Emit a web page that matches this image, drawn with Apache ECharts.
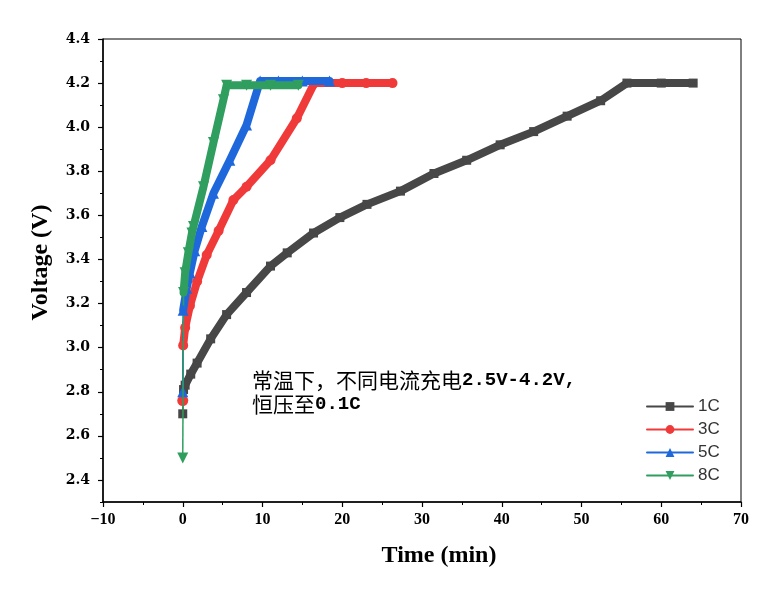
<!DOCTYPE html>
<html>
<head>
<meta charset="utf-8">
<script src="https://cdn.jsdelivr.net/npm/echarts@6/dist/echarts.min.js"></script>
<style>html,body{margin:0;padding:0;background:#fff;}#chart{width:777px;height:601px;}</style>
</head>
<body>
<div id="chart"></div>
<script>
// ---- data ----
const seriesNames = ['1C', '3C', '5C', '8C'];

const t1C = [0, 0.1, 0.3, 1.0, 1.8, 3.5, 5.5, 8.0, 11.0, 13.1, 16.4, 19.7, 23.1, 27.3, 31.5, 35.6, 39.8, 44.0, 48.2, 52.4, 55.7, 60, 64];
const v1C = [2.70, 2.81, 2.83, 2.88, 2.93, 3.04, 3.15, 3.25, 3.37, 3.43, 3.52, 3.59, 3.65, 3.71, 3.79, 3.85, 3.92, 3.98, 4.05, 4.12, 4.20, 4.20, 4.20];

const t3C = [0, 0.05, 0.3, 0.9, 1.8, 3.0, 4.5, 6.35, 8.0, 11.0, 14.3, 16.5, 20, 23, 26.3];
const v3C = [2.76, 3.01, 3.09, 3.19, 3.30, 3.42, 3.53, 3.67, 3.73, 3.85, 4.04, 4.20, 4.20, 4.20, 4.20];

const t5C = [0, 0.05, 0.5, 0.9, 1.5, 2.4, 3.85, 5.9, 8.0, 9.7, 12, 15, 18.4];
const v5C = [2.80, 3.17, 3.27, 3.34, 3.44, 3.55, 3.70, 3.85, 4.01, 4.21, 4.21, 4.21, 4.21];

const t8C = [0, 0.1, 0.3, 0.7, 1.15, 1.35, 2.6, 3.85, 5.1, 5.5, 8, 11, 14.5];
const v8C = [2.50, 3.25, 3.34, 3.43, 3.52, 3.55, 3.73, 3.93, 4.125, 4.19, 4.19, 4.19, 4.19];

const xTicks = [-10, 0, 10, 20, 30, 40, 50, 60, 70];
const yTicks = [2.4, 2.6, 2.8, 3.0, 3.2, 3.4, 3.6, 3.8, 4.0, 4.2, 4.4];

// ---- styling ----
const colors = ['#474747', '#f03a3a', '#1f68dc', '#2f9e5e'];
const symbols = ['rect', 'circle', 'triangle', 'triangle'];
const rotates = [0, 0, 0, 180];
const symSizes = [9, 10, 11, 11];
const allT = [t1C, t3C, t5C, t8C];
const allV = [v1C, v3C, v5C, v8C];

const series = [];
seriesNames.forEach((name, i) => {
  const pts = allT[i].map((t, k) => [t, allV[i][k]]);
  // thin connector from the first recorded point
  series.push({
    type: 'line', name: name + '_start',
    data: [
      { value: pts[0], symbol: symbols[i], symbolSize: i === 0 ? 9 : 11 },
      { value: pts[1], symbol: 'none' }
    ],
    symbolRotate: rotates[i],
    showSymbol: true,
    lineStyle: { color: colors[i], width: 1.5 },
    itemStyle: { color: colors[i] },
    silent: true, animation: false, z: 2 + i
  });
  // main thick band
  series.push({
    type: 'line', name: name,
    data: pts.slice(1),
    symbol: symbols[i], symbolSize: symSizes[i], symbolRotate: rotates[i],
    showSymbol: true,
    lineStyle: { color: colors[i], width: 8, cap: 'round', join: 'round' },
    itemStyle: { color: colors[i] },
    animation: false, z: 3 + i
  });
});

const serif = '"Liberation Serif", "DejaVu Serif", serif';

const chart = echarts.init(document.getElementById('chart'), null, { renderer: 'canvas' });
chart.setOption({
  backgroundColor: '#fff',
  animation: false,
  grid: { left: 103, right: 36, top: 39, bottom: 99, show: true, borderColor: '#000', borderWidth: 1, backgroundColor: 'transparent' },
  xAxis: {
    type: 'value', min: xTicks[0], max: xTicks[xTicks.length - 1], interval: 10,
    name: 'Time (min)', nameLocation: 'middle', nameGap: 42,
    nameTextStyle: { fontFamily: serif, fontWeight: 'bold', fontSize: 24, color: '#000', padding: [0, 0, 0, 34] },
    axisLine: { onZero: false, lineStyle: { color: '#000', width: 1.5 } },
    axisTick: { show: true, length: 5, lineStyle: { color: '#000', width: 1.2 } },
    minorTick: { show: true, splitNumber: 2, length: 3, lineStyle: { color: '#000', width: 1 } },
    axisLabel: { fontFamily: serif, fontWeight: 'bold', fontSize: 16, color: '#000', margin: 10,
      formatter: v => (v < 0 ? '\u2212' + Math.abs(v) : String(v)) },
    splitLine: { show: false }
  },
  yAxis: [{
    type: 'value', min: 2.3, max: 4.4,
    name: 'Voltage (V)', nameLocation: 'middle', nameGap: 50,
    nameTextStyle: { fontFamily: serif, fontWeight: 'bold', fontSize: 24, color: '#000', padding: [0, 0, 0, 16] },
    axisLine: { onZero: false, lineStyle: { color: '#000', width: 1.5 } },
    axisTick: { show: true, length: 5, customValues: yTicks, lineStyle: { color: '#000', width: 1.2 } },
    axisLabel: { customValues: yTicks, fontFamily: '"DejaVu Serif", serif', fontWeight: 'bold', fontSize: 14, color: '#000', margin: 13,
      formatter: v => v.toFixed(1) },
    splitLine: { show: false }
  }, {
    type: 'value', min: 2.3, max: 4.4, interval: 0.1, position: 'left',
    axisLine: { show: false, onZero: false },
    axisTick: { show: true, length: 3, lineStyle: { color: '#000', width: 1 } },
    axisLabel: { show: false },
    splitLine: { show: false }
  }],
  legend: {
    data: seriesNames,
    orient: 'vertical', left: 641, top: 393,
    itemWidth: 46, itemHeight: 11, itemGap: 6,
    lineStyle: { width: 2 },
    textStyle: { fontFamily: '"Liberation Sans", Arial, sans-serif', fontSize: 17, color: '#333' }
  },
  graphic: [{
    type: 'text', left: 252, top: 370,
    style: {
      text: '{c|常温下，不同电流充电}{m|2.5V-4.2V,}\n{c|恒压至}{m|0.1C}',
      rich: {
        c: { fontFamily: '"Noto Sans CJK SC"', fontSize: 21, lineHeight: 24, fill: '#000' },
        m: { fontFamily: '"Liberation Mono", monospace', fontWeight: 'bold', fontSize: 19, lineHeight: 24, fill: '#000' }
      }
    }
  }],
  series: series
});
</script>
</body>
</html>
